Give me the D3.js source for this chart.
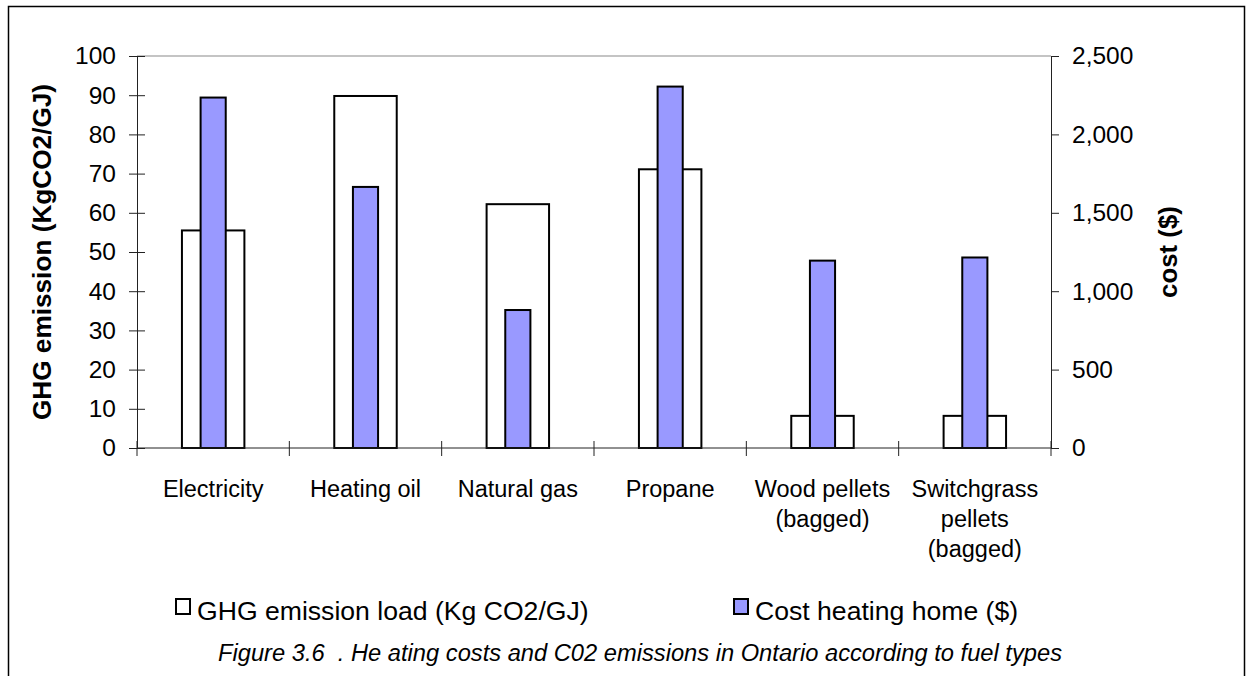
<!DOCTYPE html>
<html>
<head>
<meta charset="utf-8">
<script src="https://cdn.jsdelivr.net/npm/d3@7"></script>
<style>
  html, body { margin: 0; padding: 0; background: #fff; }
  svg { display: block; font-family: "Liberation Sans", Arial, Helvetica, sans-serif; }
</style>
</head>
<body>
<svg id="chart" width="1247" height="676"></svg>
<script>
// Fuel types (multi-line labels split into lines)
const categories = [
  ["Electricity"],
  ["Heating oil"],
  ["Natural gas"],
  ["Propane"],
  ["Wood pellets", "(bagged)"],
  ["Switchgrass", "pellets", "(bagged)"]
];
const categoryKeys = categories.map(c => c.join(" "));

// GHG emission load (Kg CO2/GJ) — left axis
const ghgEmission = [55.5, 89.8, 62.2, 71.1, 8.2, 8.2];
// Cost of heating a home ($) — right axis
const heatingCost = [2235, 1665, 880, 2305, 1195, 1215];

const leftTicks = [0, 10, 20, 30, 40, 50, 60, 70, 80, 90, 100];
const rightTicks = [0, 500, 1000, 1500, 2000, 2500];

const seriesNames = ["GHG emission load (Kg CO2/GJ)", "Cost heating home ($)"];
const captionText = "Figure 3.6  . He ating costs and C02 emissions in Ontario according to fuel types";

const svg = d3.select("#chart");

// Outer frame
svg.append("rect")
  .attr("x", 8.5).attr("y", 6.5)
  .attr("width", 1236).attr("height", 720)
  .attr("fill", "none").attr("stroke", "#000").attr("stroke-width", 1.5);

const plot = { left: 137, right: 1051, top: 56, bottom: 448 };

const x = d3.scaleBand().domain(categoryKeys).range([plot.left, plot.right]).padding(0);
const yL = d3.scaleLinear().domain([0, 100]).range([plot.bottom, plot.top]);
const yR = d3.scaleLinear().domain([0, 2500]).range([plot.bottom, plot.top]);

// Top border of plot area
svg.append("line")
  .attr("x1", plot.left).attr("x2", plot.right)
  .attr("y1", plot.top).attr("y2", plot.top)
  .attr("stroke", "#c4c4c4").attr("stroke-width", 2);

// Bars: wide white emission bars, narrow blue cost bars on top
const bw = x.bandwidth();
const wideW = bw * 0.41, narrowW = bw * 0.165;

svg.append("g").selectAll("rect")
  .data(ghgEmission)
  .join("rect")
  .attr("x", (d, i) => x(categoryKeys[i]) + (bw - wideW) / 2)
  .attr("y", d => yL(d))
  .attr("width", wideW)
  .attr("height", d => yL(0) - yL(d))
  .attr("fill", "#fff").attr("stroke", "#000").attr("stroke-width", 2);

svg.append("g").selectAll("rect")
  .data(heatingCost)
  .join("rect")
  .attr("x", (d, i) => x(categoryKeys[i]) + (bw - narrowW) / 2)
  .attr("y", d => yR(d))
  .attr("width", narrowW)
  .attr("height", d => yR(0) - yR(d))
  .attr("fill", "#9999ff").attr("stroke", "#000").attr("stroke-width", 2);

// X axis line with category boundary ticks
svg.append("line")
  .attr("x1", plot.left).attr("x2", plot.right)
  .attr("y1", plot.bottom).attr("y2", plot.bottom)
  .attr("stroke", "#222").attr("stroke-width", 1);

const bounds = categoryKeys.map(k => x(k)).concat([x.range()[1]]);
svg.append("g").selectAll("line")
  .data(bounds)
  .join("line")
  .attr("x1", d => d).attr("x2", d => d)
  .attr("y1", plot.bottom - 7).attr("y2", plot.bottom + 8)
  .attr("stroke", "#222").attr("stroke-width", 1);

// Category labels
const catG = svg.append("g")
  .attr("font-size", 23.5).attr("fill", "#000").attr("text-anchor", "middle");
categories.forEach((lines, i) => {
  const t = catG.append("text")
    .attr("x", x(categoryKeys[i]) + bw / 2)
    .attr("y", 497);
  lines.forEach((ln, j) => {
    t.append("tspan")
      .attr("x", x(categoryKeys[i]) + bw / 2)
      .attr("dy", j === 0 ? 0 : 30)
      .text(ln);
  });
});

// Left axis
const leftAxis = svg.append("g")
  .attr("transform", `translate(${plot.left},0)`)
  .call(d3.axisLeft(yL).tickValues(leftTicks).tickSize(8).tickPadding(13).tickSizeOuter(0));
leftAxis.select(".domain").attr("stroke", "#222");
leftAxis.selectAll(".tick line").attr("stroke", "#222");
leftAxis.selectAll(".tick").append("line")
  .attr("x1", 0).attr("x2", 8).attr("stroke", "#222");
leftAxis.selectAll("text")
  .attr("font-size", 24.5).attr("fill", "#000")
  .attr("font-family", "'Liberation Sans', Arial, sans-serif");

// Right axis
const rightAxis = svg.append("g")
  .attr("transform", `translate(${plot.right},0)`)
  .call(d3.axisRight(yR).tickValues(rightTicks).tickFormat(d3.format(","))
    .tickSize(8).tickPadding(13).tickSizeOuter(0));
rightAxis.select(".domain").attr("stroke", "#222");
rightAxis.selectAll(".tick line").attr("stroke", "#222");
rightAxis.selectAll("text")
  .attr("font-size", 24.5).attr("fill", "#000")
  .attr("font-family", "'Liberation Sans', Arial, sans-serif");

// Axis titles
svg.append("text")
  .attr("transform", `translate(51,${(plot.top + plot.bottom) / 2}) rotate(-90)`)
  .attr("text-anchor", "middle")
  .attr("font-size", 26.2).attr("font-weight", "bold")
  .text("GHG emission (KgCO2/GJ)");

svg.append("text")
  .attr("transform", `translate(1177,${(plot.top + plot.bottom) / 2}) rotate(-90)`)
  .attr("text-anchor", "middle")
  .attr("font-size", 25.8).attr("font-weight", "bold")
  .text("cost ($)");

// Legend
const legendItems = [
  { name: seriesNames[0], fill: "#fff", x: 176 },
  { name: seriesNames[1], fill: "#9999ff", x: 734 }
];
const lg = svg.append("g");
legendItems.forEach(it => {
  lg.append("rect")
    .attr("x", it.x).attr("y", 599)
    .attr("width", 14).attr("height", 15)
    .attr("fill", it.fill).attr("stroke", "#000").attr("stroke-width", 2);
  lg.append("text")
    .attr("x", it.x + 21).attr("y", 620)
    .attr("font-size", 26.6)
    .text(it.name);
});

// Caption
svg.append("text")
  .attr("x", 218).attr("y", 661)
  .attr("font-size", 23.7).attr("font-style", "italic")
  .attr("xml:space", "preserve")
  .style("white-space", "pre")
  .text(captionText);
</script>
</body>
</html>
